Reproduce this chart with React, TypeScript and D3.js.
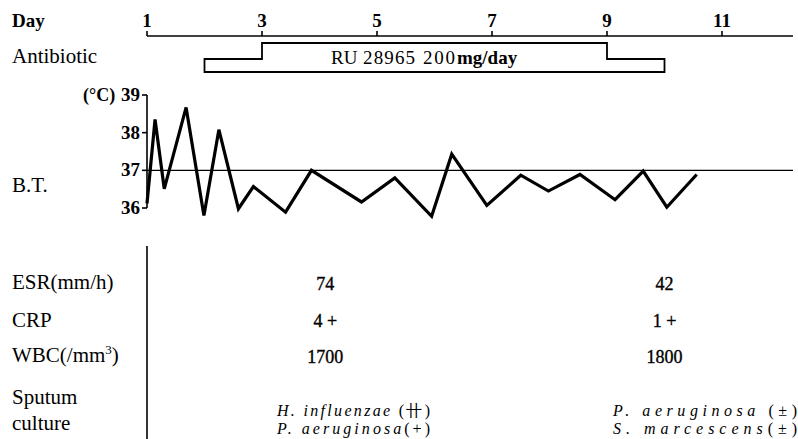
import React from 'react'
import { scaleLinear, line } from 'd3'

// day axis
const dayTicks = [1, 3, 5, 7, 9, 11]
// antibiotic course: low dose start, full course, low dose end (days)
const abStart = 2
const abFullStart = 3
const abFullEnd = 9
const abEnd = 10
const abDrug = ['RU', '28965']
const abDose = '200'
const abUnit = 'mg/day'

// body temperature readings
const btDays = [1.0, 1.14, 1.3, 1.68, 1.99, 2.25, 2.59, 2.85, 3.41, 3.86, 4.73, 5.31, 5.95, 6.3, 6.91, 7.5, 7.98, 8.53, 9.14, 9.63, 10.04, 10.56]
const btValues = [36.12, 38.35, 36.51, 38.67, 35.8, 38.08, 35.98, 36.57, 35.89, 37.0, 36.16, 36.8, 35.78, 37.43, 36.07, 36.87, 36.45, 36.89, 36.22, 36.98, 36.02, 36.89]
const btTicks = [36, 37, 38, 39]
const btRef = 37

// lab results
const labDays = [4.1, 10.0]
const esr = ['74', '42']
const crp = ['4 +', '1 +']
const wbc = ['1700', '1800']
const sputum1 = ['H. influenzae', 'P. aeruginosa']
const sputum1Grade = [' (卄)', ' (±)']
const sputum2 = ['P. aeruginosa', 'S. marcescens']
const sputum2Grade = ['(+)', '(±)']

const W = 798
const H = 439
const font = "'Liberation Serif', 'DejaVu Serif', 'Noto Serif', serif"

export default function App() {
  const x = scaleLinear().domain([1, 11]).range([147, 722])
  const y = scaleLinear().domain([36, 39]).range([208, 95])
  const axisY = 36
  const rightEnd = 793

  const btLine = line<number>()
    .x((_, i) => x(btDays[i]))
    .y(d => y(d))

  const abTop = 43
  const abMid = 59
  const abBot = 72
  const abPath = [
    [x(abStart), abMid], [x(abFullStart), abMid], [x(abFullStart), abTop],
    [x(abFullEnd), abTop], [x(abFullEnd), abMid], [x(abEnd), abMid],
    [x(abEnd), abBot], [x(abStart), abBot],
  ]

  const speciesX = [277, 613]
  const speciesW = [153, 184]
  const heavy = { stroke: '#000', strokeWidth: 0.35 }

  return (
    <svg width={W} height={H} style={{ position: 'fixed', left: 0, top: 0, background: '#fff' }}
      fill="#000">
      <g fontFamily={font}>
      {/* Day axis */}
      <text x={12} y={27} fontSize={19} fontWeight="bold">Day</text>
      <line x1={x(1)} x2={rightEnd} y1={axisY} y2={axisY} stroke="#000" strokeWidth={1.6} />
      {dayTicks.map(d => (
        <g key={d}>
          <line x1={x(d)} x2={x(d)} y1={axisY} y2={axisY - 5} stroke="#000" strokeWidth={1.6} />
          <text x={x(d)} y={27} fontSize={19} fontWeight="bold" textAnchor="middle">{d}</text>
        </g>
      ))}

      {/* Antibiotic */}
      <text x={12} y={63} fontSize={21}>Antibiotic</text>
      <polygon points={abPath.map(p => p.join(',')).join(' ')} fill="none" stroke="#000" strokeWidth={1.8} />
      <g fontSize={19}>
        <text x={331} y={64}>{abDrug[0]}</text>
        <text x={363} y={64} textLength={52} lengthAdjust="spacing">{abDrug[1]}</text>
        <text x={423} y={64} textLength={32} lengthAdjust="spacing">{abDose}</text>
        <text x={457} y={64} fontWeight="bold">{abUnit}</text>
      </g>

      {/* Body temperature */}
      <text x={12} y={192} fontSize={21}>B.T.</text>
      <text x={83} y={101} fontSize={18} fontWeight="bold">(°C)</text>
      <line x1={x(1)} x2={x(1)} y1={y(39)} y2={y(36)} stroke="#000" strokeWidth={1.6} />
      {btTicks.map(t => (
        <g key={t}>
          <line x1={x(1) - 5} x2={x(1)} y1={y(t)} y2={y(t)} stroke="#000" strokeWidth={1.6} />
          <text x={x(1) - 7} y={y(t) + 6} fontSize={19} fontWeight="bold" textAnchor="end">{t}</text>
        </g>
      ))}
      <line x1={x(1)} x2={rightEnd} y1={y(btRef)} y2={y(btRef)} stroke="#000" strokeWidth={1.4} />
      <path d={btLine(btValues) ?? ''} fill="none" stroke="#000" strokeWidth={3.2} strokeLinejoin="miter" />

      {/* Lab table */}
      <line x1={x(1)} x2={x(1)} y1={246} y2={H} stroke="#000" strokeWidth={1.6} />
      <text x={12} y={289} fontSize={21}>ESR(mm/h)</text>
      <text x={12} y={327} fontSize={21}>CRP</text>
      <text x={12} y={362} fontSize={21}>WBC(/mm<tspan dy={-8} fontSize={13}>3</tspan><tspan dy={8}>)</tspan></text>
      <text x={12} y={404} fontSize={21}>Sputum</text>
      <text x={12} y={430} fontSize={21}>culture</text>
      {labDays.map((d, i) => (
        <g key={d} fontSize={18} textAnchor="middle" {...heavy}>
          <text x={x(d)} y={290}>{esr[i]}</text>
          <text x={x(d)} y={327}>{crp[i]}</text>
          <text x={x(d)} y={363}>{wbc[i]}</text>
        </g>
      ))}
      {labDays.map((d, i) => (
        <g key={'s' + d} fontSize={16}>
          <text x={speciesX[i]} y={416} textLength={speciesW[i]} lengthAdjust="spacing">
            <tspan fontStyle="italic">{sputum1[i]}</tspan>{sputum1Grade[i]}
          </text>
          <text x={speciesX[i]} y={434} textLength={speciesW[i]} lengthAdjust="spacing">
            <tspan fontStyle="italic">{sputum2[i]}</tspan>{sputum2Grade[i]}
          </text>
        </g>
      ))}
      </g>
    </svg>
  )
}
